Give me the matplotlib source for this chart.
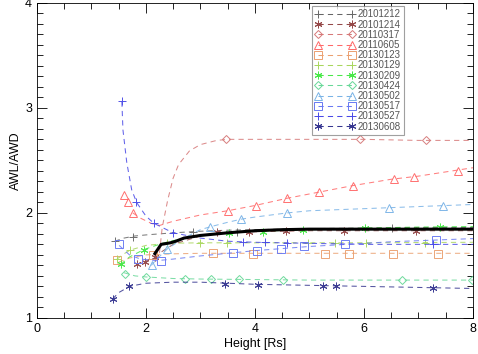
import matplotlib
matplotlib.use("Agg")
import matplotlib.pyplot as plt
from matplotlib.ticker import MultipleLocator

plt.rcParams['font.family'] = ['Liberation Sans', 'DejaVu Sans']

# ---- data ----
labels = ['20101212', '20101214', '20110317', '20110605', '20130123', '20130129',
          '20130209', '20130424', '20130502', '20130517', '20130527', '20130608']
colors = ['#666666', '#944848', '#d67878', '#ff6868', '#eba070', '#a8d65c',
          '#48e848', '#68d898', '#78b2e6', '#6878f2', '#4848e6', '#363690']
markers = ['+', (6, 2, 0), 'D', '^', 's', '+', (6, 2, 0), 'D', '^', 's', '+', (6, 2, 0)]

# fitted curves (dashed)
c_1212_x = [1.43, 1.6, 1.8, 2.0, 2.5, 3.0, 3.5, 4.0, 5.0, 6.0, 7.0, 8.0]
c_1212_y = [1.73, 1.76, 1.78, 1.79, 1.81, 1.825, 1.835, 1.84, 1.85, 1.855, 1.86, 1.86]
c_1214_x = [1.83, 2.0, 2.2, 2.5, 3.0, 3.5, 4.0, 5.0, 6.0, 7.0, 8.0]
c_1214_y = [1.51, 1.54, 1.60, 1.70, 1.78, 1.81, 1.82, 1.83, 1.83, 1.83, 1.83]
c_0317_x = [2.25, 2.3, 2.4, 2.5, 2.6, 2.8, 3.0, 3.3, 3.5, 4.0, 5.0, 6.0, 7.0, 8.0]
c_0317_y = [1.62, 1.86, 2.12, 2.33, 2.46, 2.59, 2.65, 2.69, 2.70, 2.70, 2.70, 2.70, 2.69, 2.69]
c_0605_x = [1.76, 1.9, 2.1, 2.25, 2.5, 3.0, 3.5, 4.0, 4.6, 5.2, 5.8, 6.5, 7.0, 7.5, 8.0]
c_0605_y = [2.00, 1.95, 1.90, 1.88, 1.92, 1.98, 2.02, 2.07, 2.14, 2.20, 2.26, 2.32, 2.35, 2.39, 2.43]
c_0123_x = [1.5, 1.7, 2.0, 2.5, 3.0, 4.0, 5.0, 6.0, 7.0, 8.0]
c_0123_y = [1.53, 1.57, 1.60, 1.61, 1.615, 1.615, 1.615, 1.615, 1.615, 1.615]
c_0129_x = [1.47, 1.6, 1.71, 2.0, 2.4, 3.0, 4.0, 5.0, 6.0, 8.0]
c_0129_y = [1.56, 1.61, 1.645, 1.69, 1.71, 1.715, 1.715, 1.715, 1.715, 1.72]
c_0209_x = [1.54, 1.7, 1.96, 2.3, 2.7, 3.0, 3.5, 4.0, 5.0, 6.0, 7.0, 8.0]
c_0209_y = [1.51, 1.58, 1.65, 1.71, 1.76, 1.78, 1.81, 1.825, 1.84, 1.855, 1.865, 1.87]
c_0424_x = [1.6, 1.8, 2.0, 2.5, 3.0, 4.0, 5.0, 6.0, 7.0, 8.0]
c_0424_y = [1.43, 1.40, 1.39, 1.375, 1.37, 1.365, 1.36, 1.36, 1.36, 1.36]
c_0502_x = [2.1, 2.2, 2.4, 2.7, 3.0, 3.2, 3.5, 3.75, 4.0, 4.6, 5.0, 6.0, 7.0, 8.0]
c_0502_y = [1.50, 1.56, 1.66, 1.76, 1.84, 1.87, 1.91, 1.94, 1.96, 2.00, 2.02, 2.04, 2.06, 2.08]
c_0517_x = [1.51, 1.7, 1.9, 2.2, 2.5, 3.0, 3.5, 4.0, 4.5, 5.0, 5.5, 6.0, 6.5, 7.0, 7.5, 8.0]
c_0517_y = [1.69, 1.60, 1.56, 1.545, 1.56, 1.59, 1.615, 1.64, 1.66, 1.68, 1.695, 1.71, 1.725, 1.735, 1.745, 1.755]
c_0527_x = [1.56, 1.58, 1.65, 1.74, 1.83, 2.0, 2.15, 2.5, 3.0, 3.5, 4.0, 5.0, 6.0, 7.0, 8.0]
c_0527_y = [3.06, 2.79, 2.48, 2.22, 2.10, 1.97, 1.90, 1.81, 1.76, 1.73, 1.72, 1.71, 1.70, 1.70, 1.70]
c_0608_x = [1.39, 1.5, 1.7, 2.0, 2.5, 3.0, 4.0, 5.0, 6.0, 7.0, 8.0]
c_0608_y = [1.18, 1.24, 1.30, 1.33, 1.34, 1.34, 1.32, 1.31, 1.30, 1.29, 1.28]

# data points (markers)
p_1212_x = [1.43, 1.76, 2.86, 3.67, 6.51]
p_1212_y = [1.73, 1.77, 1.82, 1.82, 1.86]
p_1214_x = [1.83, 1.98, 2.17, 3.30, 3.89, 4.57, 5.63, 6.95]
p_1214_y = [1.51, 1.53, 1.58, 1.82, 1.82, 1.83, 1.83, 1.83]
p_0317_x = [3.47, 5.93, 7.14]
p_0317_y = [2.70, 2.70, 2.69]
p_0605_x = [1.60, 1.67, 1.76, 3.50, 4.02, 4.59, 5.17, 5.80, 6.55, 6.92, 7.72]
p_0605_y = [2.17, 2.10, 2.00, 2.02, 2.07, 2.14, 2.20, 2.26, 2.32, 2.34, 2.40]
p_0123_x = [1.47, 2.13, 3.23, 3.96, 5.28, 5.73, 6.53, 7.36]
p_0123_y = [1.55, 1.60, 1.62, 1.61, 1.61, 1.61, 1.61, 1.61]
p_0129_x = [1.47, 1.71, 2.39, 2.99, 3.49, 4.97, 5.47, 6.04, 7.12]
p_0129_y = [1.56, 1.65, 1.71, 1.71, 1.71, 1.71, 1.71, 1.71, 1.71]
p_0209_x = [1.54, 1.96, 3.52, 4.15, 4.88, 6.02, 7.39]
p_0209_y = [1.51, 1.65, 1.81, 1.82, 1.84, 1.86, 1.87]
p_0424_x = [1.62, 2.01, 2.72, 3.19, 3.71, 4.52, 6.70, 7.98]
p_0424_y = [1.42, 1.39, 1.37, 1.37, 1.37, 1.36, 1.36, 1.36]
p_0502_x = [2.11, 2.39, 3.17, 3.74, 4.59, 6.46, 7.45]
p_0502_y = [1.50, 1.66, 1.87, 1.94, 2.00, 2.05, 2.07]
p_0517_x = [1.51, 1.85, 2.28, 3.60, 4.04, 4.48, 4.90, 5.65, 7.32]
p_0517_y = [1.70, 1.56, 1.54, 1.62, 1.64, 1.66, 1.68, 1.70, 1.74]
p_0527_x = [1.56, 1.82, 2.15, 2.50, 3.78, 4.18, 4.59, 7.27]
p_0527_y = [3.07, 2.10, 1.90, 1.81, 1.72, 1.72, 1.71, 1.70]
p_0608_x = [1.39, 1.69, 3.45, 4.05, 5.25, 5.49, 7.27]
p_0608_y = [1.18, 1.30, 1.32, 1.31, 1.30, 1.30, 1.28]

# mean curve (thick black)
mean_x = [2.15, 2.28, 2.45, 2.55, 2.70, 3.0, 3.5, 4.0, 4.5, 5.0, 6.0, 7.0, 8.0]
mean_y = [1.60, 1.70, 1.715, 1.73, 1.76, 1.785, 1.81, 1.83, 1.84, 1.845, 1.845, 1.845, 1.845]

curves = [(c_1212_x, c_1212_y), (c_1214_x, c_1214_y), (c_0317_x, c_0317_y), (c_0605_x, c_0605_y),
          (c_0123_x, c_0123_y), (c_0129_x, c_0129_y), (c_0209_x, c_0209_y), (c_0424_x, c_0424_y),
          (c_0502_x, c_0502_y), (c_0517_x, c_0517_y), (c_0527_x, c_0527_y), (c_0608_x, c_0608_y)]
points = [(p_1212_x, p_1212_y), (p_1214_x, p_1214_y), (p_0317_x, p_0317_y), (p_0605_x, p_0605_y),
          (p_0123_x, p_0123_y), (p_0129_x, p_0129_y), (p_0209_x, p_0209_y), (p_0424_x, p_0424_y),
          (p_0502_x, p_0502_y), (p_0517_x, p_0517_y), (p_0527_x, p_0527_y), (p_0608_x, p_0608_y)]

fig = plt.figure(figsize=(4.78, 3.54), dpi=100)
ax = fig.add_axes([0.077, 0.102, 0.9125, 0.89])

dash = (0, (5, 4))
handles = []
for lab, col, mk, (cx, cy), (px, py) in zip(labels, colors, markers, curves, points):
    ax.plot(cx, cy, linestyle=dash, color=col, linewidth=0.75, alpha=0.85)
    msz = 4.2 if mk == 'D' else 5.5
    ax.plot(px, py, linestyle='none', marker=mk, markersize=msz, markerfacecolor='none',
            markeredgecolor=col, markeredgewidth=0.7, alpha=0.95)
    h, = ax.plot([], [], linestyle=dash, color=col, linewidth=0.75, marker=mk, markersize=msz,
                 markerfacecolor='none', markeredgecolor=col, markeredgewidth=0.7, label=lab)
    handles.append(h)

ax.plot(mean_x, mean_y, color='black', linewidth=2.2, solid_capstyle='butt')

ax.set_xlim(0, 8)
ax.set_ylim(1, 4)
ax.xaxis.set_major_locator(MultipleLocator(2))
ax.xaxis.set_minor_locator(MultipleLocator(0.5))
ax.yaxis.set_major_locator(MultipleLocator(1))
ax.yaxis.set_minor_locator(MultipleLocator(0.1))
ax.tick_params(which='both', direction='in', top=True, right=True, labelsize=9, width=0.6)
ax.tick_params(which='major', length=7)
ax.tick_params(which='minor', length=4)
for s in ax.spines.values():
    s.set_linewidth(0.6)

ax.set_xlabel('Height [Rs]', fontsize=9, labelpad=2)
ax.set_ylabel('AWL/AWD', fontsize=9, labelpad=2)

leg = ax.legend(handles=handles, loc='upper left', bbox_to_anchor=(0.63, 0.99), fontsize=7,
                numpoints=2, handlelength=4.1, handletextpad=0.25, labelspacing=0.02,
                borderpad=0.35, frameon=True, fancybox=False, borderaxespad=0)
leg.get_frame().set_edgecolor('#888888')
leg.get_frame().set_linewidth(0.8)
for t in leg.get_texts():
    t.set_color('#555555')

fig.savefig('out.png', dpi=100)
